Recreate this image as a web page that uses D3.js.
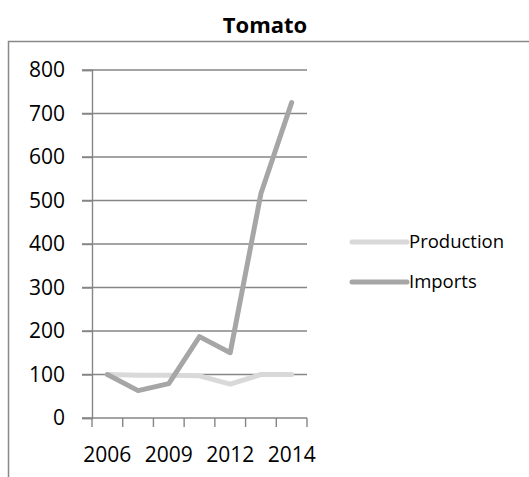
<!DOCTYPE html>
<html>
<head>
<meta charset="utf-8">
<script src="https://cdn.jsdelivr.net/npm/d3@7"></script>
<style>
  body { margin: 0; background: #fff; }
  svg { display: block; font-family: "Open Sans", sans-serif; }
</style>
</head>
<body>
<svg id="chart" width="529" height="477"></svg>
<script>
// values
var years = ["2006", "2007", "2009", "2010", "2012", "2013", "2014"];
var production = [100, 98, 98, 97, 78, 100, 100];
var imports = [100, 63, 79, 187, 150, 516, 725];
var yTicks = [0, 100, 200, 300, 400, 500, 600, 700, 800];
var shownYears = ["2006", "2009", "2012", "2014"];

var series = [
    { name: "Production", values: production, color: "#d9d9d9" },
    { name: "Imports", values: imports, color: "#a6a6a6" }
];

var svg = d3.select("#chart");

// outer frame of the chart area
svg.append("rect")
    .attr("x", 8.5).attr("y", 41.5)
    .attr("width", 600).attr("height", 600)
    .attr("fill", "none")
    .attr("stroke", "#888888")
    .attr("stroke-width", 1.5);

svg.append("text")
    .attr("x", 265).attr("y", 33)
    .attr("text-anchor", "middle")
    .attr("font-size", 22)
    .attr("font-weight", "bold")
    .text("Tomato");

var x = d3.scaleBand().domain(years).range([92, 307]).padding(0);
var y = d3.scaleLinear().domain([0, 800]).range([418, 70]);

// gridlines
svg.append("g")
    .selectAll("line")
    .data(yTicks)
    .enter()
    .append("line")
    .attr("x1", 82).attr("x2", 307)
    .attr("y1", function (d) { return y(d); })
    .attr("y2", function (d) { return y(d); })
    .attr("stroke", "#868686")
    .attr("stroke-width", 1.4);

// y axis
var yAxis = svg.append("g")
    .attr("transform", "translate(92,0)")
    .call(d3.axisLeft(y).tickValues(yTicks).tickSize(10).tickPadding(8));
yAxis.select(".domain").attr("stroke", "#868686").attr("stroke-width", 1.4);
yAxis.selectAll(".tick line").attr("stroke", "#868686").attr("stroke-width", 1.4);
yAxis.selectAll("text").attr("font-size", 21).attr("fill", "#000")
    .attr("font-family", "Open Sans, sans-serif").attr("x", -27);

// x axis: ticks on category boundaries
var xAxis = svg.append("g").attr("transform", "translate(0,418)");
var bounds = years.map(function (d) { return x(d); }).concat([x.range()[1]]);
xAxis.selectAll("line")
    .data(bounds)
    .enter()
    .append("line")
    .attr("x1", function (d) { return d; })
    .attr("x2", function (d) { return d; })
    .attr("y1", 0).attr("y2", 9)
    .attr("stroke", "#868686")
    .attr("stroke-width", 1.4);
xAxis.selectAll("text")
    .data(shownYears)
    .enter()
    .append("text")
    .attr("x", function (d) { return x(d) + x.bandwidth() / 2; })
    .attr("y", 44)
    .attr("text-anchor", "middle")
    .attr("font-size", 21)
    .text(function (d) { return d; });

var line = d3.line()
    .x(function (d, i) { return x(years[i]) + x.bandwidth() / 2; })
    .y(function (d) { return y(d); });

svg.append("g")
    .selectAll("path")
    .data(series)
    .enter()
    .append("path")
    .attr("d", function (s) { return line(s.values); })
    .attr("fill", "none")
    .attr("stroke", function (s) { return s.color; })
    .attr("stroke-width", 5)
    .attr("stroke-linejoin", "round")
    .attr("stroke-linecap", "round");

// legend
var legend = svg.append("g")
    .selectAll("g")
    .data(series)
    .enter()
    .append("g")
    .attr("transform", function (s, i) { return "translate(352," + (242 + i * 40) + ")"; });
legend.append("line")
    .attr("x1", 0).attr("x2", 55)
    .attr("stroke", function (s) { return s.color; })
    .attr("stroke-width", 5)
    .attr("stroke-linecap", "round");
legend.append("text")
    .attr("x", 57).attr("y", 6)
    .attr("font-size", 18.5)
    .text(function (s) { return s.name; });
</script>
</body>
</html>
